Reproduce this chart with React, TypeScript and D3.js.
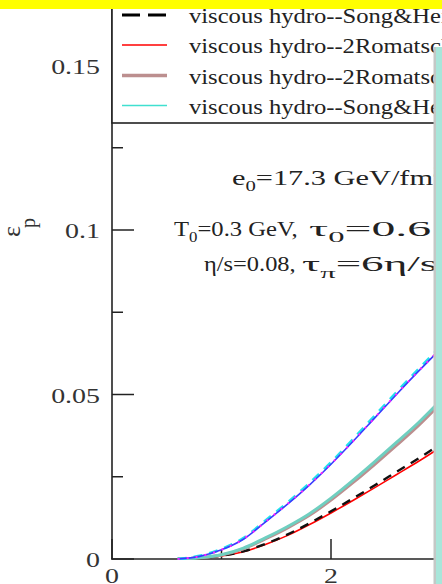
import React from "react";
import * as d3 from "d3";

const W = 442;
const H = 584;

const xGrid = [0.6, 0.8, 1.0, 1.2, 1.4, 1.6, 1.8, 2.0, 2.2, 2.4, 2.6, 2.8, 2.96];

const cyanDashed = [0, 0.0009, 0.003, 0.0063, 0.0116, 0.017, 0.0229, 0.0293, 0.0363, 0.0435, 0.0507, 0.0577, 0.0631];
const blueSolid = [0, 0.0008, 0.0028, 0.006, 0.0112, 0.0166, 0.0224, 0.0288, 0.0357, 0.0429, 0.0501, 0.0571, 0.0625];
const magentaDotted = [0, 0.0008, 0.0028, 0.0061, 0.0113, 0.0167, 0.0225, 0.0289, 0.0358, 0.043, 0.0502, 0.0572, 0.0626];
const tealThick = [0, 0.0004, 0.0013, 0.0033, 0.0064, 0.0098, 0.0137, 0.0185, 0.0239, 0.0296, 0.0355, 0.0415, 0.0468];
const rosyThick = [0, 0.0004, 0.0012, 0.0031, 0.0061, 0.0094, 0.0132, 0.0179, 0.0232, 0.0288, 0.0346, 0.0406, 0.0459];
const redSolid = [0, 0.0003, 0.0009, 0.0022, 0.0044, 0.0071, 0.0104, 0.014, 0.0178, 0.0217, 0.0257, 0.0297, 0.0331];
const blackDashed = [0, 0.0003, 0.001, 0.0023, 0.0046, 0.0074, 0.0108, 0.0145, 0.0184, 0.0224, 0.0265, 0.0306, 0.034];

const yMajor = [0, 0.05, 0.1, 0.15];
const yMinor = [0.025, 0.075, 0.125];
const yLabels = ["0", "0.05", "0.1", "0.15"];
const xMajor = [0, 2];
const xMinor = [1, 3];
const xLabels = ["0", "2"];

const legendLabels = [
  "viscous hydro--Song&Heinz",
  "viscous hydro--2Romatschke",
  "viscous hydro--2Romatschke",
  "viscous hydro--Song&Heinz",
];

const FONT = "'Liberation Serif', 'Times New Roman', serif";

function SText(props: any) {
  const { x, y, sx = 1, size, anchor = "start", children, fill = "#222" } = props;
  return (
    <text
      transform={`translate(${x},${y}) scale(${sx},1)`}
      fontSize={size}
      textAnchor={anchor}
      fontFamily={FONT}
      fill={fill}
    >
      {children}
    </text>
  );
}

export default function App() {
  const x = d3.scaleLinear().domain([0, 2]).range([112, 331]);
  const y = d3.scaleLinear().domain([0, 0.15]).range([559, 65.5]);

  const mk = (vals: number[]) =>
    d3
      .line<number>()
      .x((_, i) => x(xGrid[i]))
      .y((v) => y(v))
      .curve(d3.curveMonotoneX)(vals) as string;

  const series = [
    { d: redSolid, stroke: "#ff0000", w: 1.6, dash: undefined },
    { d: blackDashed, stroke: "#111", w: 2.4, dash: "9 7" },
    { d: rosyThick, stroke: "#bc8f8f", w: 3, dash: undefined },
    { d: tealThick, stroke: "#6fcfc0", w: 3, dash: undefined },
    { d: cyanDashed, stroke: "#22e0ee", w: 3, dash: "9 7" },
    { d: blueSolid, stroke: "#3a3aff", w: 1.6, dash: undefined },
    { d: magentaDotted, stroke: "#ff22ff", w: 2, dash: "2 7" },
  ];

  const legendRowsY = [15, 45, 75.5, 105.5];
  const legendStyles = [
    { stroke: "#000", w: 3, dash: "18 8" },
    { stroke: "#ff0000", w: 1.5, dash: undefined },
    { stroke: "#bc8f8f", w: 3.5, dash: undefined },
    { stroke: "#40e0d0", w: 1.5, dash: undefined },
  ];

  return (
    <svg
      width={W}
      height={H}
      style={{ position: "absolute", left: 0, top: 0, background: "#fff" }}
    >
      <rect x={0} y={0} width={W} height={H} fill="#fff" />
      <defs>
        <clipPath id="plotclip">
          <rect x={112} y={0} width={324} height={560} />
        </clipPath>
      </defs>

      {/* axes */}
      <line x1={112} y1={0} x2={112} y2={559.5} stroke="#222" strokeWidth={1.6} />
      <line x1={111.2} y1={559} x2={440} y2={559} stroke="#222" strokeWidth={1.6} />

      {yMajor.map((v) => (
        <line key={"ym" + v} x1={112} x2={134} y1={y(v)} y2={y(v)} stroke="#222" strokeWidth={1.5} />
      ))}
      {yMinor.map((v) => (
        <line key={"yn" + v} x1={112} x2={123} y1={y(v)} y2={y(v)} stroke="#222" strokeWidth={1.5} />
      ))}
      {xMajor.map((v) => (
        <line key={"xm" + v} x1={x(v)} x2={x(v)} y1={559} y2={539} stroke="#222" strokeWidth={1.5} />
      ))}
      {xMinor.map((v) => (
        <line key={"xn" + v} x1={x(v)} x2={x(v)} y1={559} y2={550} stroke="#222" strokeWidth={1.5} />
      ))}

      {yMajor.map((v, i) => (
        <SText key={"yl" + v} x={100} y={y(v) + 8} sx={1.27} size={22} anchor="end" fill="#333">
          {yLabels[i]}
        </SText>
      ))}
      {xMajor.map((v, i) => (
        <SText key={"xl" + v} x={x(v)} y={583} sx={1.27} size={22} anchor="middle" fill="#333">
          {xLabels[i]}
        </SText>
      ))}

      {/* y label */}
      <text
        transform="translate(20,237) rotate(-90)"
        fontFamily={FONT}
        fontSize={26}
        fill="#333"
      >
        ε<tspan dx={-2} dy={15} fontSize={20}>p</tspan>
      </text>

      {/* curves */}
      <g clipPath="url(#plotclip)">
        {series.map((s, i) => (
          <path
            key={i}
            d={mk(s.d)}
            fill="none"
            stroke={s.stroke}
            strokeWidth={s.w}
            strokeDasharray={s.dash}
          />
        ))}
      </g>

      {/* annotation */}
      <SText x={232} y={185} sx={1.38} size={22}>
        e<tspan dy={6} fontSize={15}>0</tspan>
        <tspan dy={-6}>=17.3 GeV/fm</tspan>
        <tspan dy={-8} fontSize={15}>3</tspan>
      </SText>
      <SText x={174} y={236} sx={1.12} size={22}>
        T<tspan dy={6} fontSize={15}>0</tspan>
        <tspan dy={-6}>=0.3 GeV,</tspan>
      </SText>
      <SText x={309} y={236} sx={2.17} size={22}>
        τ<tspan dy={6} fontSize={15}>0</tspan>
        <tspan dy={-6}>=0.6 fm/c</tspan>
      </SText>
      <SText x={204} y={271} sx={1.11} size={22}>
        η/s=0.08,
      </SText>
      <SText x={302} y={271} sx={2.05} size={22}>
        τ<tspan dy={7} fontSize={15}>π</tspan>
        <tspan dy={-7}>=6η/s</tspan>
      </SText>

      {/* legend box */}
      <rect x={112} y={-10} width={340} height={133} fill="#fff" stroke="#222" strokeWidth={1.6} />
      {legendRowsY.map((ly, i) => (
        <g key={"lg" + i}>
          <line
            x1={122}
            x2={167}
            y1={ly}
            y2={ly}
            stroke={legendStyles[i].stroke}
            strokeWidth={legendStyles[i].w}
            strokeDasharray={legendStyles[i].dash}
          />
          <SText x={189} y={ly + 8} sx={1.2} size={20.5}>
            {legendLabels[i]}
          </SText>
        </g>
      ))}

      {/* right-side overlay bar */}
      <rect x={433.5} y={47} width={3} height={H - 47} fill="#c4c8c6" />
      <rect x={436} y={47} width={6} height={H - 47} fill="#a8e6da" />

      {/* top yellow band */}
      <rect x={0} y={0} width={W} height={9} fill="#ffff00" />
    </svg>
  );
}
